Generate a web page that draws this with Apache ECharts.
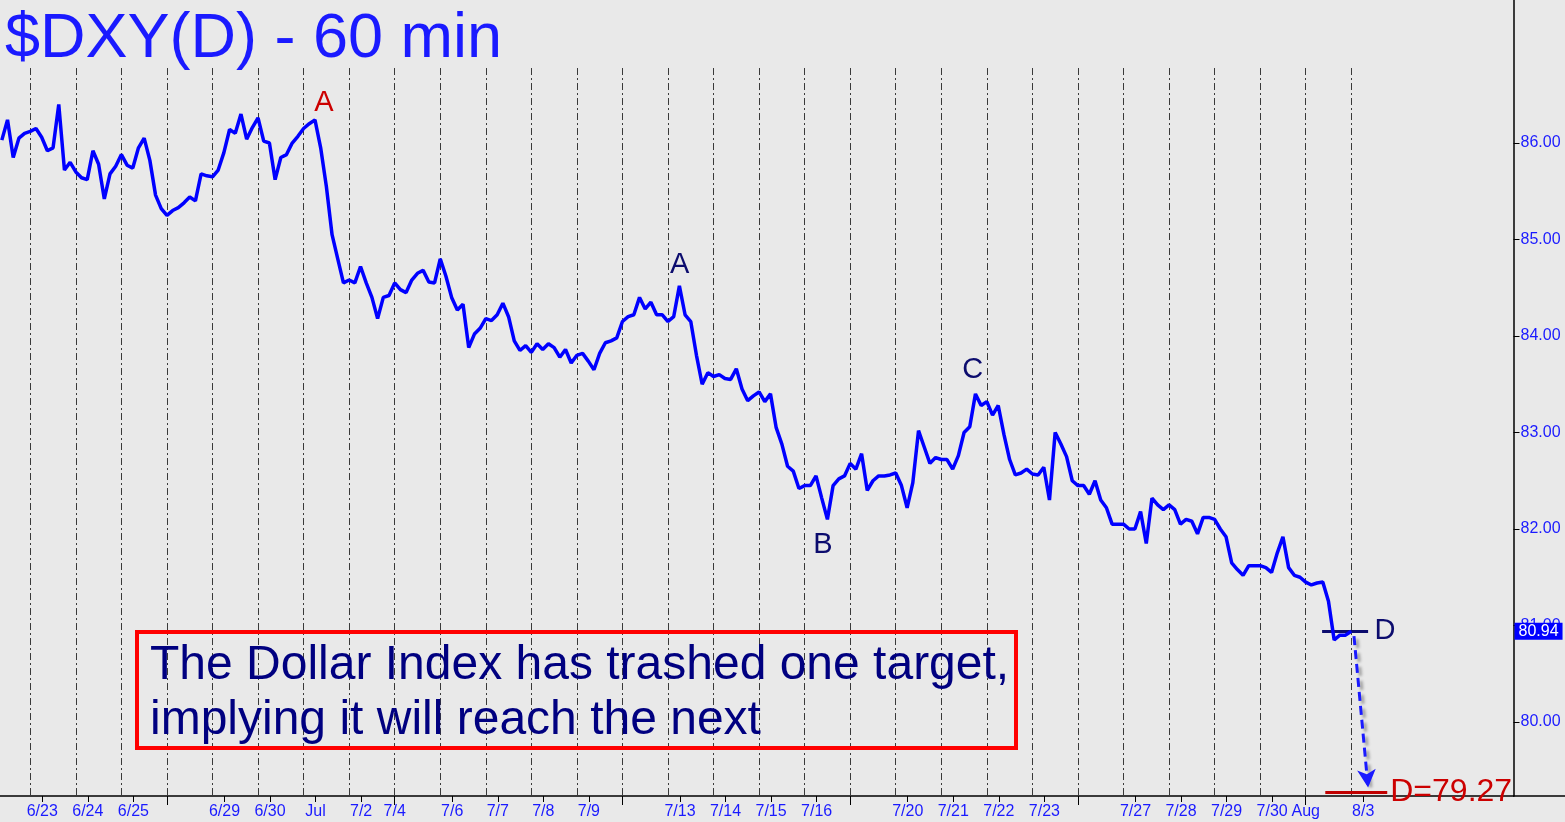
<!DOCTYPE html>
<html>
<head>
<meta charset="utf-8">
<script src="https://cdn.jsdelivr.net/npm/echarts@6/dist/echarts.min.js"></script>
<style>
html,body{margin:0;padding:0;background:#e9e9e9;}
#chart{width:1565px;height:822px;}
</style>
</head>
<body>
<div id="chart"></div>
<script>
// ---- data (hourly-ish closes, 8 samples per trading day) ----
const dayNames = ['6/23','6/24','6/25','6/26','6/29','6/30','7/1','7/2','7/3','7/6','7/7','7/8','7/9','7/10',
  '7/13','7/14','7/15','7/16','7/17','7/20','7/21','7/22','7/23','7/24','7/27','7/28','7/29','7/30','7/31','8/3'];
const preDayValues = [86.03, 86.24, 85.85, 86.05, 86.10];   // tail of 6/22
const d0  = [86.12, 86.15, 86.06, 85.92, 85.95, 86.40, 85.72, 85.80];
const d1  = [85.70, 85.64, 85.62, 85.92, 85.78, 85.42, 85.68, 85.76];
const d2  = [85.88, 85.77, 85.74, 85.95, 86.05, 85.82, 85.46, 85.32];
const d3  = [85.25, 85.30, 85.33, 85.38, 85.44, 85.40, 85.68, 85.66];
const d4  = [85.65, 85.72, 85.90, 86.14, 86.10, 86.30, 86.04, 86.16];
const d5  = [86.26, 86.02, 86.00, 85.62, 85.85, 85.88, 86.00, 86.07];
const d6  = [86.15, 86.20, 86.24, 85.95, 85.55, 85.05, 84.80, 84.55];
const d7  = [84.58, 84.55, 84.72, 84.55, 84.40, 84.18, 84.40, 84.42];
const d8  = [84.55, 84.48, 84.45, 84.58, 84.65, 84.68, 84.56, 84.55];
const d9  = [84.80, 84.62, 84.40, 84.27, 84.33, 83.88, 84.02, 84.08];
const d10 = [84.18, 84.16, 84.22, 84.34, 84.20, 83.95, 83.85, 83.90];
const d11 = [83.83, 83.92, 83.86, 83.92, 83.88, 83.78, 83.86, 83.72];
const d12 = [83.80, 83.82, 83.74, 83.65, 83.82, 83.93, 83.95, 83.98];
const d13 = [84.15, 84.20, 84.22, 84.40, 84.28, 84.35, 84.22, 84.22];
const d14 = [84.15, 84.20, 84.52, 84.22, 84.15, 83.80, 83.50, 83.62];
const d15 = [83.58, 83.60, 83.56, 83.55, 83.66, 83.45, 83.33, 83.38];
const d16 = [83.42, 83.32, 83.40, 83.05, 82.88, 82.65, 82.60, 82.42];
const d17 = [82.45, 82.45, 82.55, 82.32, 82.10, 82.45, 82.52, 82.55];
const d18 = [82.68, 82.62, 82.78, 82.40, 82.50, 82.55, 82.55, 82.56];
const d19 = [82.58, 82.45, 82.22, 82.48, 83.02, 82.85, 82.68, 82.74];
const d20 = [82.72, 82.72, 82.62, 82.76, 83.00, 83.06, 83.40, 83.28];
const d21 = [83.32, 83.18, 83.28, 82.98, 82.72, 82.56, 82.58, 82.62];
const d22 = [82.57, 82.56, 82.64, 82.30, 83.00, 82.88, 82.75, 82.50];
const d23 = [82.45, 82.45, 82.36, 82.50, 82.30, 82.22, 82.05, 82.05];
const d24 = [82.05, 82.00, 82.00, 82.18, 81.85, 82.32, 82.25, 82.20];
const d25 = [82.25, 82.20, 82.05, 82.10, 82.08, 81.95, 82.12, 82.12];
const d26 = [82.10, 82.00, 81.92, 81.65, 81.58, 81.52, 81.62, 81.62];
const d27 = [81.62, 81.60, 81.55, 81.75, 81.92, 81.60, 81.52, 81.50];
const d28 = [81.45, 81.42, 81.44, 81.45, 81.25, 80.85, 80.90, 80.90];
const d29 = [80.94];
const dayValues = [d0,d1,d2,d3,d4,d5,d6,d7,d8,d9,d10,d11,d12,d13,d14,d15,d16,d17,d18,d19,d20,d21,d22,d23,d24,d25,d26,d27,d28,d29];

// x-axis tick labels: [day index, label]
const xTickDays   = [0, 1, 2, 4, 5, 6, 7, 8, 9, 10, 11, 12, 14, 15, 16, 17, 19, 20, 21, 22, 24, 25, 26, 27, 28, 29];
const xTickLabels = ['6/23','6/24','6/25','6/29','6/30','Jul','7/2','7/4','7/6','7/7','7/8','7/9','7/13','7/14','7/15','7/16',
  '7/20','7/21','7/22','7/23','7/27','7/28','7/29','7/30','Aug','8/3'];
const labelsOnSeparator = ['7/4', 'Aug'];
const weekSeparators = [3, 8, 13, 18, 23, 28];
const yTicks = [80, 81, 82, 83, 84, 85, 86];
const lastPrice = 80.94;
const targetPrice = 79.27;
const dLevel = 80.94;

// ---- layout constants ----
const SAMPLES_PER_DAY = 8;
const X_MIN = -0.665, X_MAX = 32.562;
const Y_MIN = 79.233, Y_MAX = 87.482;
const SEP_TOP = 86.777;
const LABEL_OFFSET = 0.263;
const FONT = '"Liberation Sans", Arial, sans-serif';
const BLUE = '#1a1aff';
const NAVY = '#0c0c6e';
const RED = '#cc0000';

// build series points
const points = [];
preDayValues.forEach((v, i) => points.push([-(preDayValues.length - i) / SAMPLES_PER_DAY, v]));
dayValues.forEach((arr, d) => arr.forEach((v, i) => points.push([d + i / SAMPLES_PER_DAY, v])));

const tickPos = xTickDays.map((d, i) => labelsOnSeparator.includes(xTickLabels[i]) ? d : d + LABEL_OFFSET);
function xLabel(v) {
  for (let i = 0; i < tickPos.length; i++) if (Math.abs(tickPos[i] - v) < 1e-6) return xTickLabels[i];
  return '';
}

const markLineData = dayNames.map((n, d) => [
  { coord: [d, SEP_TOP], symbol: 'none', lineStyle: { color: '#3a3a3a', width: 1, type: [7, 3, 2, 3] }, label: { show: false } },
  { coord: [d, Y_MIN], symbol: 'none' }
]);

// D level line
markLineData.push([
  { coord: [28.36, dLevel], symbol: 'none', lineStyle: { color: NAVY, width: 3, type: 'solid' }, label: { show: false } },
  { coord: [29.37, dLevel], symbol: 'none' }
]);
// target line with label
markLineData.push([
  { coord: [28.43, targetPrice], symbol: 'none', lineStyle: { color: '#c00000', width: 3, type: 'solid' },
    label: { show: true, position: 'end', formatter: 'D=' + targetPrice.toFixed(2), color: RED, fontSize: 32,
      fontFamily: FONT, distance: 3 } },
  { coord: [29.79, targetPrice], symbol: 'none' }
]);
// projection arrow
markLineData.push([
  { coord: [29.06, 80.89], symbol: 'none',
    lineStyle: { color: '#1a1aff', width: 3, type: [9, 5], shadowColor: 'rgba(0,0,0,0.35)', shadowBlur: 3,
      shadowOffsetX: 3, shadowOffsetY: 3 }, label: { show: false } },
  { coord: [29.37, 79.32], symbol: 'arrow', symbolSize: [14, 18] }
]);
// last price tag
markLineData.push([
  { coord: [X_MAX - 0.01, lastPrice], symbol: 'none', lineStyle: { color: 'rgba(0,0,0,0)', width: 1 },
    label: { show: true, position: 'end', formatter: lastPrice.toFixed(2), color: '#ffffff', backgroundColor: '#0000ff',
      fontSize: 16, fontFamily: FONT, padding: [1, 4, 0, 4], distance: 1 } },
  { coord: [X_MAX, lastPrice], symbol: 'none' }
]);

function ann(text, x, y, color) {
  return { coord: [x, y], symbol: 'circle', symbolSize: 1, itemStyle: { color: 'rgba(0,0,0,0)' },
    label: { show: true, formatter: text, position: 'inside', color: color, fontSize: 29, fontFamily: FONT } };
}

const chart = echarts.init(document.getElementById('chart'), null, { renderer: 'canvas' });
chart.setOption({
  backgroundColor: '#e9e9e9',
  animation: false,
  title: {
    text: '$DXY(D) - 60 min', left: 0, top: 3,
    textStyle: { color: BLUE, fontSize: 63, fontWeight: 'normal', fontFamily: FONT }
  },
  grid: { left: 0, right: 51.5, top: 0, bottom: 26 },
  xAxis: [{
    type: 'value', min: X_MIN, max: X_MAX, position: 'bottom',
    axisLine: { onZero: false, lineStyle: { color: '#000', width: 1.5 } },
    axisTick: { customValues: tickPos, length: 6, lineStyle: { color: '#000' } },
    axisLabel: { customValues: tickPos, formatter: xLabel, color: BLUE, fontSize: 16, fontFamily: FONT, margin: 8 },
    splitLine: { show: false }
  }, {
    type: 'value', min: X_MIN, max: X_MAX, position: 'bottom',
    axisLine: { show: false, onZero: false },
    axisTick: { customValues: weekSeparators, length: 9, lineStyle: { color: '#000' } },
    axisLabel: { show: false },
    splitLine: { show: false }
  }],
  yAxis: {
    type: 'value', position: 'right', min: Y_MIN, max: Y_MAX,
    axisLine: { show: true, onZero: false, lineStyle: { color: '#000', width: 1.5 } },
    axisTick: { show: true, customValues: yTicks, length: 6, lineStyle: { color: '#000' } },
    axisLabel: { customValues: yTicks, formatter: v => v.toFixed(2), color: BLUE, fontSize: 16, fontFamily: FONT, margin: 7 },
    splitLine: { show: false }
  },
  graphic: [
    { type: 'line', shape: { x1: 1513, y1: 796, x2: 1565, y2: 796 }, style: { stroke: '#000', lineWidth: 1.5 }, z: 10 },
    { type: 'rect', shape: { x: 137, y: 632, width: 879, height: 116 }, style: { fill: 'none', stroke: '#ff0000', lineWidth: 4 }, z: 10 },
    { type: 'text', x: 150, y: 638, z: 11,
      style: { text: 'The Dollar Index has trashed one target,\nimplying it will reach the next',
        font: '48px "Liberation Sans", Arial, sans-serif', fill: '#000080', lineHeight: 55 } }
  ],
  series: [{
    type: 'line', data: points, showSymbol: false, z: 5,
    lineStyle: { color: '#0000ff', width: 3.5 },
    itemStyle: { color: '#0000ff' },
    markLine: { silent: true, symbol: 'none', animation: false, data: markLineData },
    markPoint: { silent: true, animation: false, data: [
      ann('A', 6.446, 86.415, RED),
      ann('A', 14.254, 84.736, NAVY),
      ann('B', 17.40, 81.834, NAVY),
      ann('C', 20.69, 83.648, NAVY),
      ann('D', 29.74, 80.943, NAVY)
    ] }
  }]
});
</script>
</body>
</html>
